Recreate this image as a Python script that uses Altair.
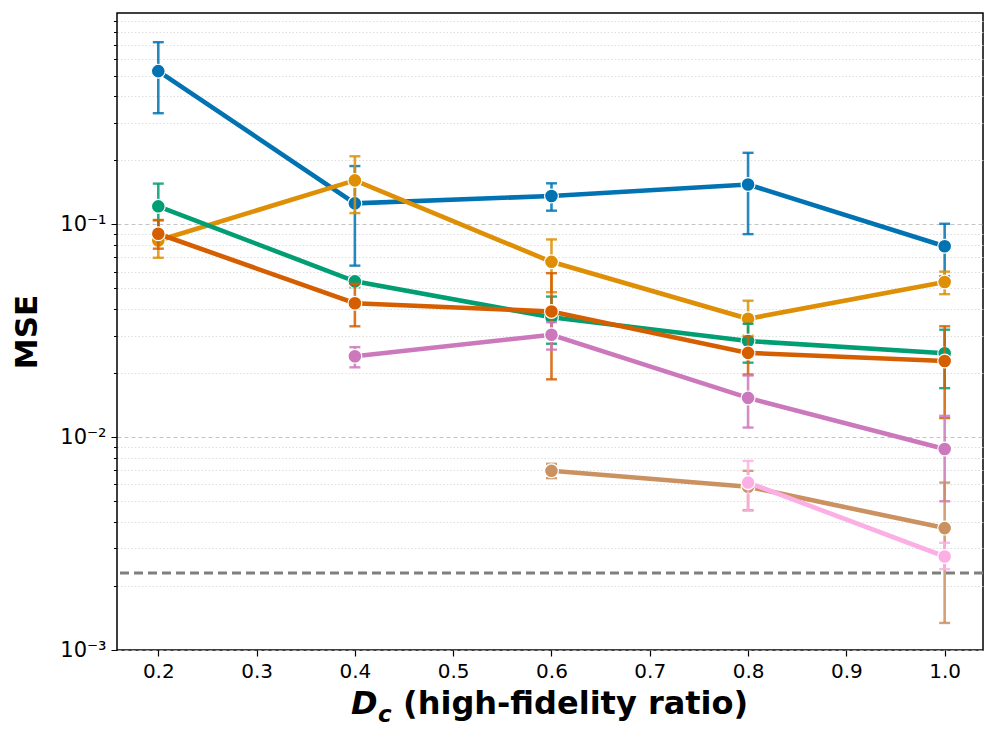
import altair as alt
import pandas as pd

# ---- data ----
x_vals = [0.2, 0.4, 0.6, 0.8, 1.0]

series_names = ["S1", "S2", "S3", "S4", "S5", "S6", "S7"]
series_colors = ["#0173b2", "#de8f05", "#029e73", "#d55e00", "#cc78bc", "#ca9161", "#fbafe4"]

mean_s1 = [0.525, 0.1256, 0.136, 0.154, 0.079]
lo_s1 = [0.333, 0.064, 0.116, 0.090, 0.057]
hi_s1 = [0.718, 0.188, 0.156, 0.217, 0.1007]

mean_s2 = [0.084, 0.161, 0.0667, 0.036, 0.0536]
lo_s2 = [0.0697, 0.113, 0.048, 0.030, 0.047]
hi_s2 = [0.105, 0.209, 0.085, 0.0438, 0.060]

mean_s3 = [0.1216, 0.054, 0.0366, 0.0283, 0.0248]
lo_s3 = [0.088, 0.0507, 0.0275, 0.0224, 0.017]
hi_s3 = [0.1555, 0.0571, 0.0458, 0.0341, 0.032]

mean_s4 = [0.0904, 0.0426, 0.039, 0.0249, 0.0228]
lo_s4 = [0.0769, 0.0332, 0.0187, 0.0197, 0.0123]
hi_s4 = [0.1045, 0.0526, 0.059, 0.0297, 0.0332]

mean_s5 = [None, 0.024, 0.0303, 0.0153, 0.0088]
lo_s5 = [None, 0.0213, 0.0258, 0.0111, 0.0050]
hi_s5 = [None, 0.0265, 0.0347, 0.0195, 0.0126]

mean_s6 = [None, None, 0.00695, 0.00585, 0.00374]
lo_s6 = [None, None, 0.00642, 0.00454, 0.00134]
hi_s6 = [None, None, 0.0075, 0.00695, 0.00612]

mean_s7 = [None, None, None, 0.00612, 0.00275]
lo_s7 = [None, None, None, 0.00451, 0.0024]
hi_s7 = [None, None, None, 0.00774, 0.00319]

baseline_mse = [0.0023]

x_ticks = [0.2, 0.3, 0.4, 0.5, 0.6, 0.7, 0.8, 0.9, 1.0]
y_major = [0.001, 0.01, 0.1]
y_minor = [m * d for d in (0.001, 0.01, 0.1) for m in range(2, 10)]

means = [mean_s1, mean_s2, mean_s3, mean_s4, mean_s5, mean_s6, mean_s7]
los = [lo_s1, lo_s2, lo_s3, lo_s4, lo_s5, lo_s6, lo_s7]
his = [hi_s1, hi_s2, hi_s3, hi_s4, hi_s5, hi_s6, hi_s7]

FONT = "DejaVu Sans"
W, H = 866, 637

major_test = "datum.value == 0.1 || datum.value == 0.01 || datum.value == 0.001"

x_scale = alt.Scale(domain=[0.158, 1.039], nice=False, zero=False)
y_scale = alt.Scale(type="log", domain=[0.001, 0.985], nice=False)

x_axis = alt.Axis(values=x_ticks, format=".1f", title=None, grid=False,
                  tickSize=6, tickWidth=1.2, tickColor="black",
                  labelFontSize=20, labelPadding=5, labelColor="black",
                  labelFont=FONT, domain=False)

y_axis = alt.Axis(
    values=y_major + y_minor,
    labelExpr="datum.value == 0.1 ? '10⁻¹' : datum.value == 0.01 ? '10⁻²' : datum.value == 0.001 ? '10⁻³' : ''",
    title="MSE", titleFont=FONT, titleFontSize=31, titleFontWeight="bold",
    titleAngle=-90, titleX=-90, titleY=H / 2, titleAlign="center",
    titleBaseline="middle", titleColor="black",
    labelFont=FONT, labelFontSize=21, labelColor="black", labelPadding=5,
    tickColor="black", tickWidth=1.0,
    tickSize={"condition": {"test": major_test, "value": 6}, "value": 3.5},
    grid=True,
    gridDash={"condition": {"test": major_test, "value": [4, 3]}, "value": [1.5, 2]},
    gridColor={"condition": {"test": major_test, "value": "#b5b5b5"}, "value": "#d6d6d6"},
    gridWidth=0.8,
    domain=False,
)

def X(field):
    return alt.X(field, type="quantitative", scale=x_scale, axis=x_axis)

def Y(field):
    return alt.Y(field, type="quantitative", scale=y_scale, axis=y_axis)

layers = []

base_df = pd.DataFrame({"mse": baseline_mse})
layers.append(
    alt.Chart(base_df).mark_rule(color="#7f7f7f", strokeWidth=2.8, strokeDash=[9, 5]).encode(y=Y("mse"))
)

for name, col, m, lo, hi in zip(series_names, series_colors, means, los, his):
    rows = [
        {"x": xv, "mse": mv, "lo": lv, "hi": hv}
        for xv, mv, lv, hv in zip(x_vals, m, lo, hi) if mv is not None
    ]
    df = pd.DataFrame(rows)
    base = alt.Chart(df)
    layers.append(base.mark_line(color=col, strokeWidth=4.6).encode(x=X("x"), y=Y("mse")))
    layers.append(base.mark_rule(color=col, strokeWidth=2.6, opacity=0.85).encode(
        x=X("x"), y=Y("lo"), y2="hi"))
    layers.append(base.mark_tick(color=col, orient="horizontal", size=11, thickness=2.4, opacity=0.85).encode(
        x=X("x"), y=Y("lo")))
    layers.append(base.mark_tick(color=col, orient="horizontal", size=11, thickness=2.4, opacity=0.85).encode(
        x=X("x"), y=Y("hi")))
    layers.append(base.mark_circle(color=col, size=190, opacity=1, stroke="white", strokeWidth=1.2).encode(
        x=X("x"), y=Y("mse")))

# x-axis title: D_c (high-fidelity ratio)
title_df = pd.DataFrame({"t": ["D"]})
layers.append(alt.Chart(title_df).mark_text(
    text="D", font=FONT, fontSize=32, fontWeight="bold", fontStyle="italic",
    align="left", baseline="alphabetic", color="black"
).encode(x=alt.value(234), y=alt.value(701)))
layers.append(alt.Chart(title_df).mark_text(
    text="c", font=FONT, fontSize=23, fontWeight="bold", fontStyle="italic",
    align="left", baseline="alphabetic", color="black"
).encode(x=alt.value(261), y=alt.value(709)))
layers.append(alt.Chart(title_df).mark_text(
    text="(high-fidelity ratio)", font=FONT, fontSize=32, fontWeight="bold",
    align="left", baseline="alphabetic", color="black"
).encode(x=alt.value(286), y=alt.value(701)))

chart = alt.layer(*layers).properties(
    width=W, height=H,
    background="white",
    autosize=alt.AutoSizeParams(type="none"),
    padding={"left": 109, "top": 5, "right": 2, "bottom": 76},
).configure_view(stroke="black", strokeWidth=1.5)

chart.save("out.html", embed_options={"renderer": "svg", "actions": False})
